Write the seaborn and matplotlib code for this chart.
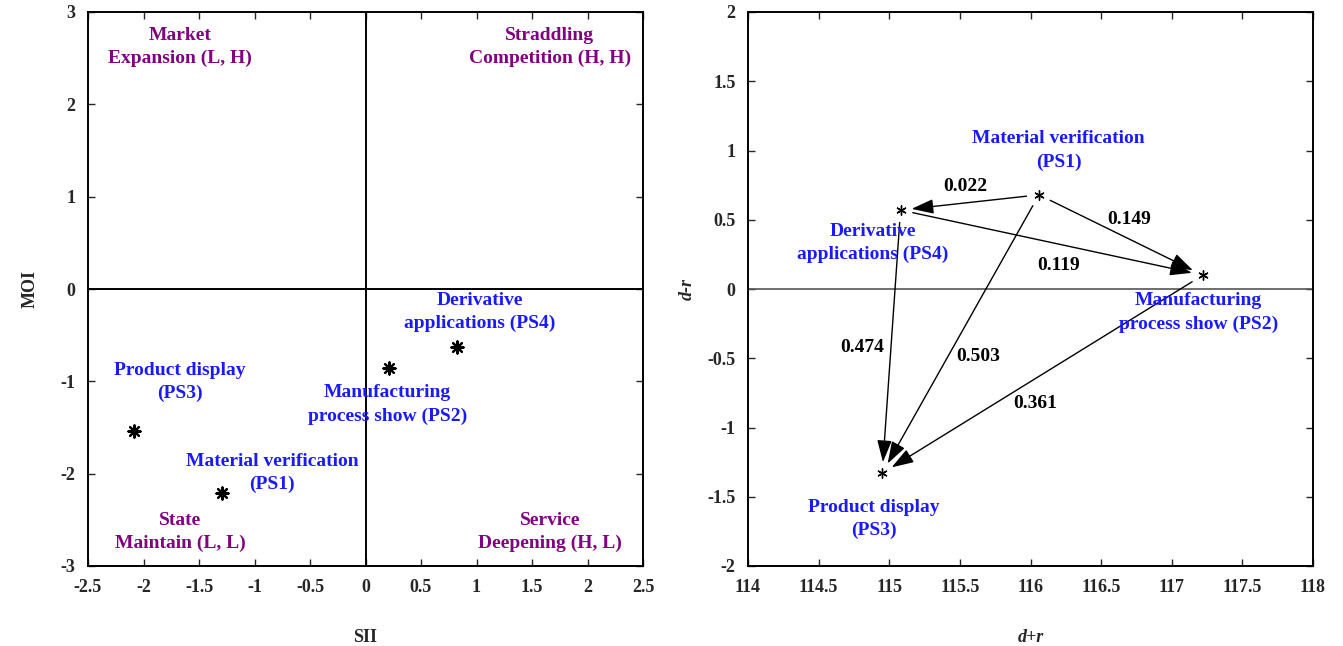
import numpy as np
import pandas as pd
import seaborn as sns
from matplotlib import pyplot as plt

# point data (PS1..PS4)
names = ['PS1', 'PS2', 'PS3', 'PS4']
titles = ['Material verification\n(PS1)', 'Manufacturing\nprocess show (PS2)',
          'Product display\n(PS3)', 'Derivative\napplications (PS4)']
sii = [-1.29, 0.21, -2.085, 0.82]
moi = [-2.21, -0.86, -1.54, -0.63]
d_plus_r = [116.06, 117.22, 114.95, 115.08]
d_minus_r = [0.68, 0.10, -1.33, 0.57]

quadrants = ['Market\nExpansion (L, H)', 'Straddling\nCompetition (H, H)',
             'State\nMaintain (L, L)', 'Service\nDeepening (H, L)']

edge_src = ['PS1', 'PS1', 'PS4', 'PS4', 'PS1', 'PS2']
edge_dst = ['PS4', 'PS2', 'PS2', 'PS3', 'PS3', 'PS3']
edge_w = [0.022, 0.149, 0.119, 0.474, 0.503, 0.361]

df = pd.DataFrame({'name': names, 'title': titles, 'SII': sii, 'MOI': moi,
                   'd+r': d_plus_r, 'd-r': d_minus_r}).set_index('name', drop=False)

# label placement (layout only)
left_lab = {'PS1': (-0.84, -1.99), 'PS2': (0.2, -1.25), 'PS3': (-1.67, -1.01), 'PS4': (1.03, -0.25)}
quad_lab = [(-1.67, 2.62), (1.66, 2.62), (-1.67, -2.63), (1.66, -2.63)]
right_lab = {'PS1': (116.2, 1.0), 'PS2': (117.19, -0.17), 'PS3': (114.89, -1.66), 'PS4': (114.885, 0.33)}
w_lab = [(115.54, 0.74), (116.70, 0.50), (116.20, 0.17), (114.81, -0.42), (115.63, -0.49), (116.03, -0.83)]

sns.set_style('ticks')
plt.rcParams['font.family'] = ['Liberation Serif', 'DejaVu Serif']
plt.rcParams['font.weight'] = 'bold'
plt.rcParams['axes.labelweight'] = 'bold'

fig = plt.figure(figsize=(13.43, 6.46), dpi=100)
ax1 = fig.add_axes([88 / 1343, 80 / 646, 555 / 1343, 554 / 646])
ax2 = fig.add_axes([748 / 1343, 80 / 646, 565 / 1343, 554 / 646])

blue = '#1a1aff'
purple = '#800080'
lab_kw = dict(fontsize=14, ha='center', va='center', fontweight='bold', linespacing=1.45)

for ax in (ax1, ax2):
    for s in ax.spines.values():
        s.set_linewidth(1.4)
        s.set_color('black')
    ax.tick_params(direction='in', top=True, right=True, length=5, width=1,
                   labelsize=13, pad=9)

# left: quadrant chart
ax1.axhline(0, color='black', lw=1.4)
ax1.axvline(0, color='black', lw=1.4)
sns.scatterplot(data=df, x='SII', y='MOI', ax=ax1, marker=(8, 2, 0), s=75,
                color='black', linewidth=1.6, zorder=3)
for (x, y), t in zip(quad_lab, quadrants):
    ax1.text(x, y, t, color=purple, **lab_kw)
for n in names:
    x, y = left_lab[n]
    ax1.text(x, y, df.loc[n, 'title'], color=blue, **lab_kw)
ax1.set_xlim(-2.5, 2.5)
ax1.set_ylim(-3, 3)
ax1.set_xticks(np.arange(-2.5, 2.51, 0.5))
ax1.set_xticklabels(['-2.5', '-2', '-1.5', '-1', '-0.5', '0', '0.5', '1', '1.5', '2', '2.5'])
ax1.set_yticks(range(-3, 4))
ax1.set_yticklabels(['-3', '-2', '-1', '0', '1', '2', '3'])
ax1.set_xlabel('SII', fontsize=13, labelpad=24)
ax1.set_ylabel('MOI', fontsize=13, labelpad=16)

# right: causal diagram
ax2.axhline(0, color='#555555', lw=1.2)
sns.scatterplot(data=df, x='d+r', y='d-r', ax=ax2, marker=(6, 2, 0), s=45,
                color='black', linewidth=1.0, zorder=3)
for s, d, (lx, ly), w in zip(edge_src, edge_dst, w_lab, edge_w):
    ax2.annotate('', xy=(df.loc[d, 'd+r'], df.loc[d, 'd-r']),
                 xytext=(df.loc[s, 'd+r'], df.loc[s, 'd-r']),
                 arrowprops=dict(arrowstyle='-|>,head_length=0.75,head_width=0.25',
                                 color='black', lw=1.0, mutation_scale=18,
                                 shrinkA=9, shrinkB=8))
    ax2.text(lx, ly, f'{w:.3f}', color='black', **lab_kw)
for n in names:
    x, y = right_lab[n]
    ax2.text(x, y, df.loc[n, 'title'], color=blue, **lab_kw)
ax2.set_xlim(114, 118)
ax2.set_ylim(-2, 2)
ax2.set_xticks(np.arange(114, 118.01, 0.5))
ax2.set_xticklabels(['114', '114.5', '115', '115.5', '116', '116.5', '117', '117.5', '118'])
ax2.set_yticks(np.arange(-2, 2.01, 0.5))
ax2.set_yticklabels(['-2', '-1.5', '-1', '-0.5', '0', '0.5', '1', '1.5', '2'])
ax2.set_xlabel('d+r', fontsize=13, labelpad=24, fontstyle='italic')
ax2.set_ylabel('d-r', fontsize=13, labelpad=8, fontstyle='italic')

fig.savefig('out.png', dpi=100)
